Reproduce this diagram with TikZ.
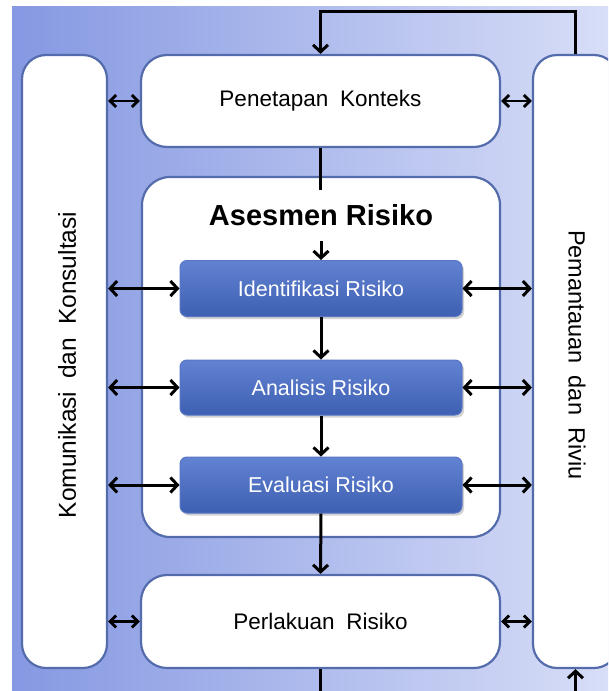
\documentclass[tikz,border=0pt]{standalone}
\usepackage{fontspec}
\setmainfont{Liberation Sans}
\usetikzlibrary{arrows.meta,shadows}
\definecolor{bgL}{RGB}{133,152,226}
\definecolor{bgR}{RGB}{216,222,247}
\definecolor{edge}{RGB}{84,108,172}
\definecolor{procT}{RGB}{98,130,210}
\definecolor{procB}{RGB}{62,96,178}
\definecolor{procE}{RGB}{88,118,196}
\begin{document}
\begin{tikzpicture}[x=1pt,y=-1pt,
  wbox/.style={draw=edge, line width=2.2pt, fill=white, rounded corners=26pt, inner sep=0pt, align=center},
  pbox/.style={draw=procE, line width=1pt, top color=procT, bottom color=procB, rounded corners=7pt,
    minimum width=282pt, minimum height=56pt, text=white, font=\fontsize{21.5}{24}\selectfont,
    drop shadow={shadow xshift=2pt,shadow yshift=-2.5pt,opacity=0.35}},
  arr/.style={line width=3pt, -{Straight Barb[length=7pt,width=15pt]}},
  darr/.style={line width=3pt, {Straight Barb[length=7pt,width=15pt]}-{Straight Barb[length=7pt,width=15pt]}},
  sarr/.style={line width=2.8pt, {Straight Barb[length=6pt,width=12pt]}-{Straight Barb[length=6pt,width=12pt]}},
  ln/.style={line width=3pt},
  bigtxt/.style={font=\fontsize{22.5}{26}\selectfont}]
\useasboundingbox (0,0) rectangle (608,691);
\clip (0,0) rectangle (608,691);
\fill[left color=bgL, right color=bgR] (12,6) rectangle (608,691);

\node[wbox, bigtxt, minimum width=359pt, minimum height=92pt] (pen) at (320.5,101) {Penetapan\hspace{0.25em} Konteks};
\node[wbox, minimum width=358pt, minimum height=360pt, rounded corners=28pt] (ases) at (321,357) {};
\node[font=\fontsize{29}{33}\selectfont\bfseries] (ttl) at (321,215) {Asesmen Risiko};
\node[pbox] (idf) at (321,288.5) {Identifikasi Risiko};
\node[pbox, minimum height=55pt] (ana) at (321,387.5) {Analisis Risiko};
\node[pbox] (eva) at (321,485) {Evaluasi Risiko};
\node[wbox, bigtxt, minimum width=359pt, minimum height=93pt] (per) at (320.5,621.5) {Perlakuan\hspace{0.25em} Risiko};
\node[wbox, minimum width=85pt, minimum height=613pt, rounded corners=24pt] (kom) at (64.5,361.5) {};
\node[rotate=90, font=\fontsize{24.5}{28}\selectfont] (komt) at (67,365) {Komunikasi\hspace{0.25em} dan\hspace{0.25em} Konsultasi};
\node[wbox, minimum width=85pt, minimum height=613pt, rounded corners=24pt] (pem) at (575.5,361.5) {};
\node[rotate=-90, font=\fontsize{23.5}{27}\selectfont] (pemt) at (577,355) {Pemantauan\hspace{0.25em} dan\hspace{0.25em} Riviu};

\coordinate (pa) at (320.5,190);
\coordinate (fb) at (450,11);
\coordinate (bl) at (320.5,700);
\coordinate (br) at (575.5,700);

\draw[ln] (pen.south) -- (pa);
\draw[arr] (pem.north) |- (fb) -| (pen.north);
\draw[arr] ([yshift=-12pt]ttl.south) -- (idf.north);
\draw[arr] (idf.south) -- (ana.north);
\draw[arr] (ana.south) -- (eva.north);
\draw[arr] (eva.south) -- (per.north);
\draw[ln] (per.south) -- (bl);
\draw[arr] (br) -- (pem.south);

\foreach \n in {idf,ana,eva}{
  \draw[darr] (kom.east |- \n.west) -- (\n.west);
  \draw[darr] (\n.east) -- (pem.west |- \n.east);
}
\foreach \n in {pen,per}{
  \draw[sarr] (kom.east |- \n.west) -- (\n.west);
  \draw[sarr] (\n.east) -- (pem.west |- \n.east);
}
\end{tikzpicture}
\end{document}
